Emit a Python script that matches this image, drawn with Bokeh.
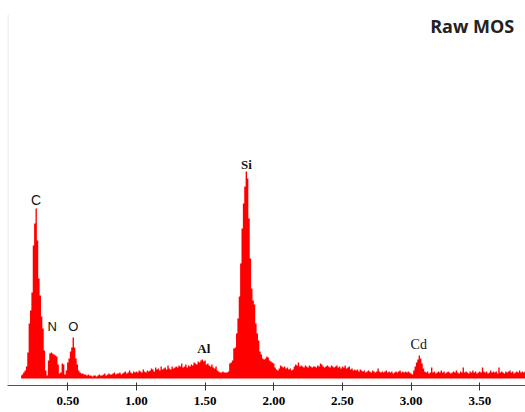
import numpy as np
from bokeh.plotting import figure
from bokeh.models import Range1d, FixedTicker, NumeralTickFormatter, Label, ColumnDataSource
from bokeh.embed import file_html
from bokeh.resources import INLINE

# EDS spectrum: counts per 10 eV channel, first channel at 0.16 keV
start_kev = 0.16
channel_kev = 0.01
counts = [
    3, 4, 6, 8,
    12, 26, 55, 68, 86, 133, 155, 170, 138, 100,
    83, 62, 50, 28, 8, 3, 18, 25, 26, 25,
    24, 23, 22, 14, 5, 6, 15, 14, 4, 8,
    16, 20, 27, 31, 41, 31, 20, 14, 8, 6,
    5, 5, 4, 4, 3, 4, 3, 3, 2, 3,
    3, 2, 3, 4, 3, 3, 4, 5, 3, 4,
    5, 4, 4, 5, 6, 4, 5, 5, 6, 4,
    5, 6, 7, 5, 6, 8, 6, 5, 7, 6,
    7, 6, 8, 7, 6, 9, 7, 6, 8, 7,
    8, 10, 9, 7, 11, 9, 10, 8, 12, 9,
    10, 11, 9, 13, 10, 9, 12, 10, 11, 12,
    11, 13, 12, 15, 11, 12, 14, 11, 13, 12,
    14, 13, 16, 15, 14, 17, 16, 18, 19, 17,
    18, 14, 15, 13, 12, 14, 11, 10, 12, 8,
    7, 6, 6, 7, 6, 6, 6, 7, 15, 16,
    18, 30, 31, 45, 60, 82, 115, 150, 175, 192,
    207, 200, 160, 120, 90, 78, 74, 55, 45, 38,
    27, 24, 20, 19, 20, 22, 21, 18, 17, 16,
    15, 11, 9, 8, 10, 13, 12, 11, 12, 10,
    11, 9, 10, 8, 9, 12, 14, 13, 16, 12,
    13, 12, 11, 13, 12, 11, 13, 12, 11, 12,
    12, 11, 13, 12, 15, 14, 12, 11, 12, 13,
    12, 11, 13, 12, 11, 12, 13, 11, 12, 10,
    12, 11, 13, 10, 11, 12, 9, 10, 8, 9,
    8, 9, 7, 9, 8, 7, 8, 6, 7, 8,
    7, 6, 8, 7, 6, 7, 10, 7, 6, 7,
    6, 7, 8, 6, 7, 6, 7, 5, 6, 7,
    6, 7, 8, 6, 7, 6, 7, 6, 7, 6,
    5, 4, 8, 12, 16, 19, 23, 20, 15, 10,
    7, 6, 7, 5, 6, 11, 6, 7, 5, 6,
    7, 6, 8, 6, 7, 5, 6, 7, 6, 5,
    6, 7, 6, 8, 6, 5, 7, 6, 11, 6,
    7, 6, 5, 7, 6, 8, 6, 7, 5, 6,
    7, 6, 11, 7, 6, 7, 5, 6, 8, 6,
    7, 6, 7, 5, 11, 6, 7, 6, 5, 7,
    6, 7, 8, 6, 7, 5, 6, 7, 6, 8,
    6, 7, 6, 7,
]
energy = np.round(start_kev + channel_kev * np.arange(len(counts)), 2)

# Peak identifications
elements = ["C", "N", "O", "Al", "Si", "Cd"]
element_kev = [0.27, 0.387, 0.54, 1.491, 1.801, 3.056]

# x-axis ticks (keV)
tick_values = [0.5, 1.0, 1.5, 2.0, 2.5, 3.0, 3.5]

# ---- layout ----
W, H = 525, 412
left_px, bottom_px = 7, 27
px_per_kev = 137.33
x_start = (left_px + 1.4) / px_per_kev
x_end = x_start + (W - left_px) / px_per_kev
y_start, y_end = -7, H - bottom_px - 7

p = figure(width=W, height=H, output_backend="svg", toolbar_location=None,
           x_range=Range1d(x_start, x_end), y_range=Range1d(y_start, y_end),
           min_border_left=left_px, min_border_right=0, min_border_top=0,
           min_border_bottom=bottom_px)
p.outline_line_color = None
p.grid.visible = False
p.yaxis.visible = False
p.background_fill_color = "white"
p.border_fill_color = "white"

# faint frame edge on the left
p.segment(x0=[x_start + 0.3 / px_per_kev], y0=[y_start], x1=[x_start + 0.3 / px_per_kev],
          y1=[y_end - 14], line_color="#e9edf5", line_width=2)

# spectrum as a filled step area
p.varea_step(x=energy, y1=0, y2=counts, step_mode="center",
             fill_color="#ff0000", fill_alpha=1.0)

# element labels
label_y = [179, 52, 52, 30, 214, 34]
label_font = ["Liberation Sans", "Liberation Sans", "Liberation Sans",
              "Liberation Serif", "Liberation Serif", "Liberation Serif"]
label_style = ["normal", "normal", "normal", "bold", "bold", "normal"]
label_size = ["14px", "13px", "13px", "13px", "13px", "14px"]
src = ColumnDataSource(dict(x=element_kev, y=label_y, name=elements,
                            font=label_font, style=label_style, size=label_size))
p.text(x="x", y="y", text="name", text_font="font", text_font_style="style",
       text_font_size="size", text_align="center", text_baseline="middle",
       text_color="#111111", source=src)

# sample title
p.add_layout(Label(x=(471.7 + 1.4) / px_per_kev, y=y_end - 25, text="Raw MOS",
                   text_font="Open Sans", text_font_style="bold", text_font_size="18px",
                   text_color="#222222", text_align="center", text_baseline="middle"))

ax = p.xaxis[0]
ax.ticker = FixedTicker(ticks=tick_values)
ax.formatter = NumeralTickFormatter(format="0.00")
ax.axis_line_color = "#555555"
ax.axis_line_width = 1.2
ax.major_tick_line_color = "#333333"
ax.major_tick_in = 3
ax.major_tick_out = 5
ax.minor_tick_line_color = None
ax.major_label_text_font = "Liberation Serif"
ax.major_label_text_font_style = "bold"
ax.major_label_text_font_size = "13px"
ax.major_label_text_color = "#000000"
ax.major_label_standoff = 6

open("out.html", "w").write(file_html(p, INLINE))
